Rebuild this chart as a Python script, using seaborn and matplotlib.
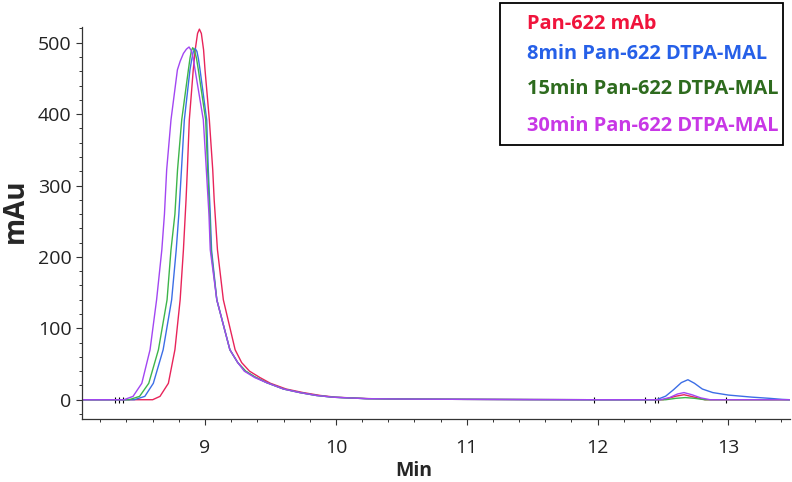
import numpy as np
import pandas as pd
import matplotlib
matplotlib.use("Agg")
import matplotlib.pyplot as plt
import seaborn as sns
from matplotlib.ticker import MultipleLocator
from matplotlib.patches import Rectangle

# хроматограммы, значения (время, мин / поглощение, mAu)
red_time = [8.06, 8.60, 8.656, 8.72, 8.77, 8.81, 8.835, 8.855, 8.865, 8.88, 8.91, 8.925, 8.943,
            8.957, 8.972, 8.989, 9.0, 9.033, 9.059, 9.07, 9.095, 9.14, 9.23, 9.28, 9.34, 9.42,
            9.50, 9.62, 9.75, 9.88, 10.0, 10.25, 10.6, 11.0, 11.5, 12.0, 12.50, 12.60, 12.66,
            12.73, 12.82, 13.47]
red_mau = [0, 0, 4.7, 23, 70, 140, 210, 280, 322, 392, 462, 490, 513,
           519, 513, 490, 462, 392, 322, 280, 210, 140, 70, 52, 40, 31,
           23, 15, 10, 6, 3.5, 1.5, 0.8, 0.5, 0.2, 0, 0, 5, 7,
           4, 0, 0]

blue_time = [8.06, 8.46, 8.54, 8.605, 8.68, 8.745, 8.78, 8.80, 8.82, 8.842, 8.885, 8.898, 8.91,
             8.924, 8.938, 8.95, 8.962, 9.013, 9.025, 9.04, 9.05, 9.09, 9.19, 9.25, 9.31, 9.38,
             9.47, 9.60, 9.725, 9.85, 9.98, 10.23, 10.6, 11.0, 11.5, 12.0, 12.45, 12.52, 12.58,
             12.64, 12.69, 12.74, 12.80, 12.88, 13.0, 13.18, 13.31, 13.41, 13.47]
blue_mau = [0, 0, 4.7, 23, 70, 140, 210, 260, 322, 392, 462, 476, 487,
            492, 488, 477, 462, 392, 322, 260, 210, 140, 70, 52, 40, 32,
            24, 15, 10, 6, 3.5, 1.5, 0.8, 0.5, 0.2, 0, 0, 5, 14,
            24, 28, 23, 15, 10, 6.5, 3.6, 2, 0.5, 0]

green_time = [8.06, 8.42, 8.50, 8.57, 8.644, 8.71, 8.74, 8.77, 8.79, 8.822, 8.873, 8.885, 8.895,
              8.906, 8.92, 8.935, 8.949, 9.005, 9.02, 9.035, 9.045, 9.09, 9.19, 9.25, 9.31, 9.38,
              9.47, 9.60, 9.725, 9.85, 9.98, 10.23, 10.6, 11.0, 11.5, 12.0, 12.52, 12.60, 12.67,
              12.74, 12.82, 13.47]
green_mau = [0, 0, 4.7, 23, 70, 140, 210, 260, 322, 392, 462, 478, 488,
             493, 489, 478, 462, 392, 322, 260, 210, 140, 70, 52, 40, 32,
             24, 15, 10, 6, 3.5, 1.5, 0.8, 0.5, 0.2, 0, 0, 2, 3,
             2, 0, 0]

purple_time = [8.06, 8.38, 8.45, 8.517, 8.58, 8.63, 8.67, 8.69, 8.707, 8.74, 8.789, 8.81, 8.835,
               8.858, 8.878, 8.895, 8.91, 8.924, 8.987, 9.01, 9.03, 9.04, 9.09, 9.19, 9.25, 9.30,
               9.38, 9.47, 9.60, 9.725, 9.85, 9.98, 10.23, 10.6, 11.0, 11.5, 12.0, 12.48, 12.55,
               12.61, 12.66, 12.72, 12.79, 12.86, 13.47]
purple_mau = [0, 0, 4.7, 23, 70, 140, 210, 260, 322, 392, 462, 474, 485,
              491, 494, 489, 478, 462, 392, 322, 260, 210, 140, 70, 52, 40,
              31, 24, 15, 10, 6, 3.5, 1.5, 0.8, 0.5, 0.2, 0, 0, 3,
              8, 10, 7, 2.5, 0, 0]

# метки интегрирования на базовой линии
mark_time = [8.31, 8.34, 8.37, 11.97, 12.36, 12.44, 12.46, 12.98]

labels = ["Pan-622 mAb", "8min Pan-622 DTPA-MAL", "15min Pan-622 DTPA-MAL", "30min Pan-622 DTPA-MAL"]
line_colors = ["#e8245a", "#3c6ee6", "#3db54a", "#a246f2"]
text_colors = ["#f0143c", "#2660e8", "#2e6b1e", "#c837e6"]

series = [(red_time, red_mau), (blue_time, blue_mau), (green_time, green_mau), (purple_time, purple_mau)]
df = pd.concat([pd.DataFrame({"Min": t, "mAu": m, "sample": lab})
                for (t, m), lab in zip(series, labels)], ignore_index=True)

sns.set_style("ticks")
plt.rcParams['font.family'] = ['Open Sans', 'DejaVu Sans']

fig = plt.figure(figsize=(7.92, 4.82), dpi=100)
ax = fig.add_axes([82/792, 63/482, 708/792, 392/482])

sns.lineplot(data=df, x="Min", y="mAu", hue="sample", palette=dict(zip(labels, line_colors)),
             estimator=None, sort=False, linewidth=1.0, legend=False, ax=ax)

ax.plot(mark_time, np.zeros(len(mark_time)), linestyle="none", marker="|",
        markersize=4, markeredgewidth=0.8, color="black", zorder=1)

ax.set_xlim(8.06, 13.47)
ax.set_ylim(-27, 522)
ax.xaxis.set_major_locator(MultipleLocator(1))
ax.xaxis.set_minor_locator(MultipleLocator(0.2))
ax.yaxis.set_major_locator(MultipleLocator(100))
ax.yaxis.set_minor_locator(MultipleLocator(20))
ax.tick_params(which="major", length=4.5, width=0.8, color="#333333", labelsize=14, labelcolor="#222222")
ax.tick_params(which="minor", length=2.5, width=0.7, color="#333333")
ax.tick_params(axis="x", which="major", pad=10)
ax.tick_params(axis="y", which="major", pad=3)
sns.despine(ax=ax)
for s in ["left", "bottom"]:
    ax.spines[s].set_color("#333333")
    ax.spines[s].set_linewidth(0.9)

ax.set_xlabel("Min", fontsize=14, fontweight="bold")
ax.set_ylabel("mAu", fontsize=20, fontweight="bold")
ax.xaxis.set_label_coords(0.468, -0.108)
ax.yaxis.set_label_coords(-0.074, 0.53)

# легенда - цветной текст в рамке
fig.patches.append(Rectangle((500/792, 1 - 145/482), 283/792, 142/482, transform=fig.transFigure,
                             fill=False, edgecolor="black", linewidth=1.3))
for lab, col, yy in zip(labels, text_colors, [24, 54, 89, 126]):
    fig.text(527/792, 1 - yy/482, lab, color=col, fontsize=14.4, fontweight="bold", va="center", ha="left")

fig.savefig("out.png", dpi=100)
